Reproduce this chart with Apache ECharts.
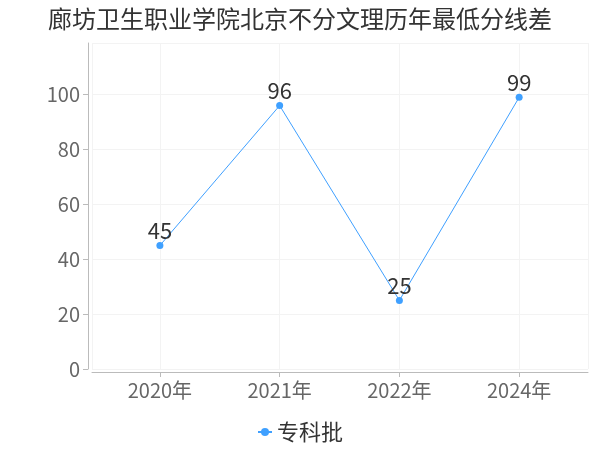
<!DOCTYPE html>
<html>
<head>
<meta charset="utf-8">
<script src="https://cdn.jsdelivr.net/npm/echarts@6/dist/echarts.min.js"></script>
<style>html,body{margin:0;padding:0;background:#fff}#c{width:600px;height:450px}</style>
</head>
<body>
<div id="c"></div>
<script>
const title = '廊坊卫生职业学院北京不分文理历年最低分线差';
const categories = ['2020年', '2021年', '2022年', '2024年'];
const seriesName = '专科批';
const values = [45, 96, 25, 99];

const FONT = "'Noto Sans CJK SC', sans-serif";
const chart = echarts.init(document.getElementById('c'), null, {renderer: 'canvas'});
const seriesData = values.map((v, i) => [i, v]);
chart.setOption({
  backgroundColor: '#fff',
  animation: false,
  textStyle: {fontFamily: FONT},
  title: {
    text: title, left: 'center', top: 2,
    textStyle: {fontSize: 24, fontWeight: 'normal', color: '#333', fontFamily: FONT}
  },
  grid: {left: 92, right: 12, top: 43, bottom: 81},
  legend: {
    bottom: 2, left: 'center',
    itemWidth: 14, itemHeight: 10, itemGap: 10,
    textStyle: {fontSize: 22, color: '#333', fontFamily: FONT},
    data: [seriesName]
  },
  xAxis: {
    type: 'value',
    min: -0.567, max: 3.575,
    splitNumber: 4,
    offset: 3,
    axisLine: {show: true, onZero: false, lineStyle: {color: '#bbb'}},
    axisTick: {show: true, lineStyle: {color: '#bbb'}},
    axisLabel: {
      fontSize: 20, color: '#666', margin: 8, fontFamily: FONT,
      showMinLabel: false, showMaxLabel: false,
      formatter: v => (Number.isInteger(v) && categories[v] !== undefined) ? categories[v] : ''
    },
    splitLine: {show: true, lineStyle: {color: '#f3f3f3'}}
  },
  yAxis: {
    type: 'value',
    min: 0, max: 118.8,
    offset: 4,
    axisLine: {show: true, onZero: false, lineStyle: {color: '#bbb'}},
    axisTick: {show: true, lineStyle: {color: '#bbb'}},
    axisLabel: {fontSize: 20, color: '#666', showMaxLabel: false, fontFamily: FONT},
    splitLine: {show: true, lineStyle: {color: '#f3f3f3'}}
  },
  series: [{
    name: seriesName,
    type: 'line',
    data: seriesData,
    symbol: 'circle',
    symbolSize: 7,
    itemStyle: {color: '#3fa0ff'},
    lineStyle: {width: 1, color: '#3fa0ff'},
    label: {show: true, position: 'top', distance: 0, fontSize: 22, color: '#333', fontFamily: FONT, formatter: p => p.value[1]}
  }]
});
</script>
</body>
</html>
